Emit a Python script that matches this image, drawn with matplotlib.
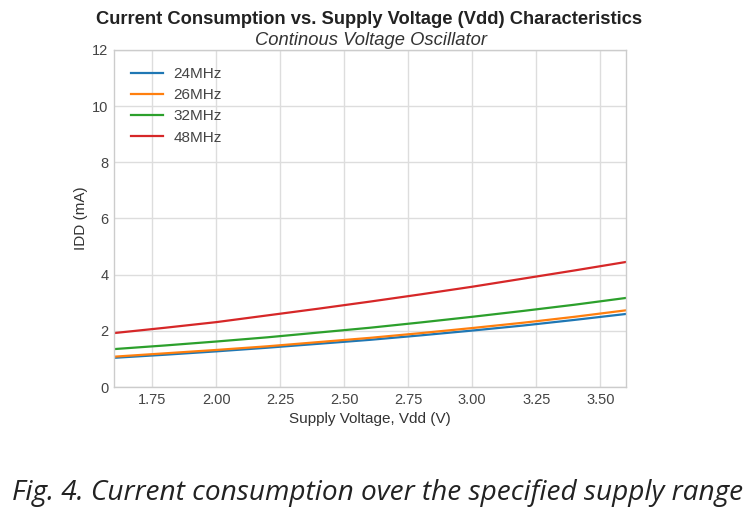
import matplotlib
matplotlib.use("Agg")
import matplotlib.pyplot as plt

vdd = [1.6, 1.8, 2.0, 2.2, 2.4, 2.6, 2.8, 3.0, 3.2, 3.4, 3.6]
idd_24 = [1.04, 1.15, 1.27, 1.40, 1.54, 1.68, 1.84, 2.01, 2.19, 2.39, 2.60]
idd_26 = [1.08, 1.20, 1.32, 1.45, 1.60, 1.75, 1.92, 2.10, 2.29, 2.50, 2.73]
idd_32 = [1.35, 1.48, 1.62, 1.77, 1.94, 2.11, 2.30, 2.50, 2.71, 2.93, 3.17]
idd_48 = [1.92, 2.11, 2.31, 2.55, 2.79, 3.04, 3.30, 3.57, 3.86, 4.15, 4.45]
labels = ["24MHz", "26MHz", "32MHz", "48MHz"]
xticks = [1.75, 2.00, 2.25, 2.50, 2.75, 3.00, 3.25, 3.50]
yticks = [0, 2, 4, 6, 8, 10, 12]

plt.rcParams['font.family'] = ['Liberation Sans', 'DejaVu Sans']
fig = plt.figure(figsize=(7.54, 5.14), dpi=100)
ax = fig.add_axes([0.151, 0.247, 0.679, 0.656])
ax.set_facecolor('white')
colors = ['#1f77b4', '#ff7f0e', '#2ca02c', '#d62728']
for ys, lab, c in zip([idd_24, idd_26, idd_32, idd_48], labels, colors):
    ax.plot(vdd, ys, color=c, lw=1.6, label=lab)

ax.set_xlim(1.6, 3.6)
ax.set_ylim(0, 12)
ax.set_xticks(xticks)
ax.set_xticklabels([f"{t:.2f}" for t in xticks])
ax.set_yticks(yticks)
ax.grid(True, color='#dddddd', lw=1.0)
ax.set_axisbelow(True)
for s in ax.spines.values():
    s.set_color('#cccccc')
    s.set_linewidth(1.0)
ax.tick_params(length=0, labelsize=10.5, labelcolor='#444444', pad=4)
ax.set_xlabel("Supply Voltage, Vdd (V)", fontsize=11, color='#333333', labelpad=4)
ax.set_ylabel("IDD (mA)", fontsize=11, color='#333333', labelpad=3)
leg = ax.legend(loc='upper left', frameon=False, fontsize=11, handlelength=2.1,
                handletextpad=0.7, borderaxespad=0.72, labelspacing=0.47)
for t in leg.get_texts():
    t.set_color('#444444')

fig.text(0.490, 0.963, "Current Consumption vs. Supply Voltage (Vdd) Characteristics",
         ha='center', va='center', fontsize=13.2, fontweight='bold', color='#222222')
fig.text(0.492, 0.921, "Continous Voltage Oscillator", ha='center', va='center',
         fontsize=13.2, style='italic', color='#333333')
fig.text(0.501, 0.040, "Fig. 4. Current consumption over the specified supply range",
         ha='center', va='center', fontsize=20.2, style='italic', color='#222222',
         family=['Open Sans', 'DejaVu Sans'])

fig.savefig("out.png", dpi=100, facecolor='white')
